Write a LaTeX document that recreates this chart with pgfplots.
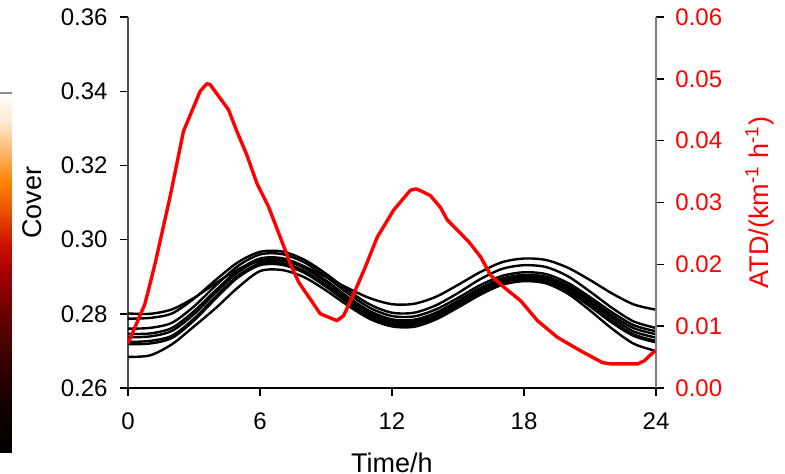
\documentclass[border=0pt]{standalone}
\usepackage{pgfplots}
\pgfplotsset{compat=1.18}
\usepackage{fontspec}
\setmainfont{Liberation Sans}
\newcommand{\fs}{\fontsize{12}{14}\selectfont}
\newcommand{\fl}{\fontsize{13.5}{15}\selectfont}
\begin{document}
\begin{tikzpicture}
\useasboundingbox (-64pt,-42.5pt) rectangle (328.5pt,194pt);

% colour-bar fragment at the left edge
\begin{axis}[at={(-70pt,-32pt)}, anchor=south west, scale only axis,
  width=12pt, height=179.5pt, hide axis, xmin=0, xmax=1, ymin=0, ymax=1,
  clip=false, point meta min=0, point meta max=1,
  colormap={heatbar}{rgb255(0cm)=(0,0,0); rgb255(15cm)=(24,0,0); rgb255(28cm)=(64,0,0);
    rgb255(40cm)=(112,0,0); rgb255(50cm)=(165,0,0); rgb255(58cm)=(205,16,0);
    rgb255(67cm)=(235,80,0); rgb255(75cm)=(255,128,0); rgb255(83cm)=(255,178,100);
    rgb255(92cm)=(255,232,210); rgb255(100cm)=(255,255,255)}]
\addplot[surf, shader=interp, point meta=y, mesh/rows=11, mesh/cols=2] coordinates {
 (0,0) (1,0) (0,0.15) (1,0.15) (0,0.28) (1,0.28) (0,0.40) (1,0.40)
 (0,0.50) (1,0.50) (0,0.58) (1,0.58) (0,0.67) (1,0.67) (0,0.75) (1,0.75)
 (0,0.83) (1,0.83) (0,0.92) (1,0.92) (0,1) (1,1)};
\addplot[black!45, line width=1pt] coordinates {(0,1) (1,1)};
\end{axis}

% left axis: cover
\begin{axis}[at={(0,0)}, anchor=south west, scale only axis,
  width=264pt, height=185.5pt,
  xmin=0, xmax=24, ymin=0.26, ymax=0.36,
  xtick={0,6,12,18,24}, xticklabels={0,6,12,18,24},
  ytick={0.26,0.28,0.30,0.32,0.34,0.36},
  yticklabels={0.26,0.28,0.30,0.32,0.34,0.36},
  scaled ticks=false,
  axis x line*=bottom, axis y line*=left,
  axis line style={-, line width=0.8pt},
  y axis line style={black!70},
  x axis line style={black},
  tick align=outside, major tick length=4pt,
  tick style={black, line width=0.7pt},
  tick label style={font=\fs},
  xticklabel style={inner sep=0pt, yshift=-8pt},
  yticklabel style={inner sep=0pt, xshift=-6pt},
  xlabel={Time/h}, ylabel={Cover},
  every axis x label/.style={at={(rel axis cs:0.5,0)}, yshift=-32.5pt, anchor=north, inner sep=0pt, font=\fl},
  every axis y label/.style={at={(rel axis cs:0,0.5)}, xshift=-48pt, rotate=90, anchor=center, inner sep=0pt, font=\fl},
]
\addplot[black, line width=1.2pt, smooth, tension=0.5] coordinates {(0,0.2801)(1,0.2800)(2,0.2812)(3,0.2843)(4,0.2883)(5,0.2920)(6,0.2942)(7,0.2943)(8,0.2927)(9,0.2900)(10,0.2869)(11,0.2842)(12,0.2826)(13,0.2827)(14,0.2846)(15,0.2878)(16,0.2912)(17,0.2939)(18,0.2949)(19,0.2945)(20,0.2924)(21,0.2891)(22,0.2855)(23,0.2825)(24,0.2811)};
\addplot[black, line width=1.2pt, smooth, tension=0.5] coordinates {(0,0.2787)(1,0.2789)(2,0.2801)(3,0.2841)(4,0.2892)(5,0.2939)(6,0.2967)(7,0.2968)(8,0.2946)(9,0.2908)(10,0.2863)(11,0.2825)(12,0.2803)(13,0.2803)(14,0.2823)(15,0.2856)(16,0.2893)(17,0.2921)(18,0.2931)(19,0.2926)(20,0.2901)(21,0.2860)(22,0.2816)(23,0.2779)(24,0.2762)};
\addplot[black, line width=1.2pt, smooth, tension=0.5] coordinates {(0,0.2760)(1,0.2762)(2,0.2776)(3,0.2820)(4,0.2877)(5,0.2929)(6,0.2960)(7,0.2961)(8,0.2939)(9,0.2900)(10,0.2855)(11,0.2816)(12,0.2794)(13,0.2793)(14,0.2812)(15,0.2843)(16,0.2877)(17,0.2902)(18,0.2912)(19,0.2907)(20,0.2883)(21,0.2845)(22,0.2804)(23,0.2769)(24,0.2753)};
\addplot[black, line width=1.2pt, smooth, tension=0.5] coordinates {(0,0.2746)(1,0.2747)(2,0.2762)(3,0.2807)(4,0.2864)(5,0.2917)(6,0.2949)(7,0.2950)(8,0.2928)(9,0.2890)(10,0.2845)(11,0.2807)(12,0.2785)(13,0.2784)(14,0.2803)(15,0.2835)(16,0.2869)(17,0.2895)(18,0.2905)(19,0.2900)(20,0.2876)(21,0.2838)(22,0.2796)(23,0.2761)(24,0.2745)};
\addplot[black, line width=1.2pt, smooth, tension=0.5] coordinates {(0,0.2737)(1,0.2739)(2,0.2754)(3,0.2799)(4,0.2858)(5,0.2912)(6,0.2945)(7,0.2946)(8,0.2924)(9,0.2886)(10,0.2841)(11,0.2803)(12,0.2781)(13,0.2780)(14,0.2799)(15,0.2830)(16,0.2864)(17,0.2890)(18,0.2900)(19,0.2895)(20,0.2871)(21,0.2831)(22,0.2789)(23,0.2752)(24,0.2736)};
\addplot[black, line width=1.2pt, smooth, tension=0.5] coordinates {(0,0.2724)(1,0.2727)(2,0.2741)(3,0.2787)(4,0.2847)(5,0.2903)(6,0.2936)(7,0.2937)(8,0.2916)(9,0.2878)(10,0.2835)(11,0.2797)(12,0.2776)(13,0.2775)(14,0.2794)(15,0.2825)(16,0.2859)(17,0.2885)(18,0.2895)(19,0.2890)(20,0.2865)(21,0.2824)(22,0.2781)(23,0.2744)(24,0.2727)};
\addplot[black, line width=1.2pt, smooth, tension=0.5] coordinates {(0,0.2718)(1,0.2720)(2,0.2735)(3,0.2782)(4,0.2842)(5,0.2898)(6,0.2931)(7,0.2932)(8,0.2911)(9,0.2873)(10,0.2830)(11,0.2792)(12,0.2771)(13,0.2770)(14,0.2789)(15,0.2820)(16,0.2854)(17,0.2880)(18,0.2890)(19,0.2885)(20,0.2860)(21,0.2820)(22,0.2776)(23,0.2740)(24,0.2723)};
\addplot[black, line width=1.2pt, smooth, tension=0.5] coordinates {(0,0.2684)(1,0.2688)(2,0.2718)(3,0.2766)(4,0.2816)(5,0.2871)(6,0.2915)(7,0.2918)(8,0.2899)(9,0.2863)(10,0.2822)(11,0.2786)(12,0.2766)(13,0.2765)(14,0.2785)(15,0.2817)(16,0.2851)(17,0.2878)(18,0.2888)(19,0.2882)(20,0.2854)(21,0.2809)(22,0.2760)(23,0.2719)(24,0.2700)};
\end{axis}

% right axis: ATD
\begin{axis}[at={(0,0)}, anchor=south west, scale only axis,
  width=264pt, height=185.5pt,
  xmin=0, xmax=24, ymin=0, ymax=0.06,
  axis x line=none, axis y line*=right,
  axis line style={-, line width=0.8pt},
  y axis line style={black!50},
  ytick={0,0.01,0.02,0.03,0.04,0.05,0.06},
  yticklabels={0.00,0.01,0.02,0.03,0.04,0.05,0.06},
  scaled ticks=false,
  tick align=outside, major tick length=4pt,
  tick style={black, line width=0.7pt},
  tick label style={font=\fs},
  yticklabel style={inner sep=0pt, xshift=5.5pt, text=red},
  ylabel={ATD/(km\textsuperscript{-1} h\textsuperscript{-1})},
  every axis y label/.style={at={(rel axis cs:1,0.5)}, xshift=52pt, rotate=90, anchor=center, inner sep=0pt, font=\fl, text=red},
]
\addplot[red, line width=1.7pt, line join=round] coordinates {
(0,0.0072)(0.77,0.0136)(1.23,0.0201)(1.91,0.0309)(2.52,0.0415)(3.28,0.0480)(3.58,0.0492)(3.73,0.0491)
(4.57,0.0450)(4.95,0.0415)(5.4,0.0377)(5.86,0.0331)(6.39,0.0293)(6.92,0.0244)(7.38,0.0201)(7.76,0.0171)
(8.74,0.0120)(9.5,0.0109)(9.8,0.0117)(10.26,0.0152)(10.79,0.0196)(11.33,0.0244)(12.08,0.0288)
(12.84,0.0320)(13.1,0.0322)(13.3,0.0319)(13.75,0.0311)(14.2,0.0292)(14.51,0.0272)(15.12,0.0250)
(15.5,0.0236)(16.03,0.0212)(16.49,0.0182)(17.09,0.0163)(17.85,0.0141)(18.61,0.0109)(19.52,0.0082)
(20.58,0.0060)(21.57,0.0041)(21.95,0.0039)(22.71,0.0039)(23.17,0.0039)(23.47,0.0044)(23.85,0.0057)(24,0.0060)};
\end{axis}
\end{tikzpicture}
\end{document}
